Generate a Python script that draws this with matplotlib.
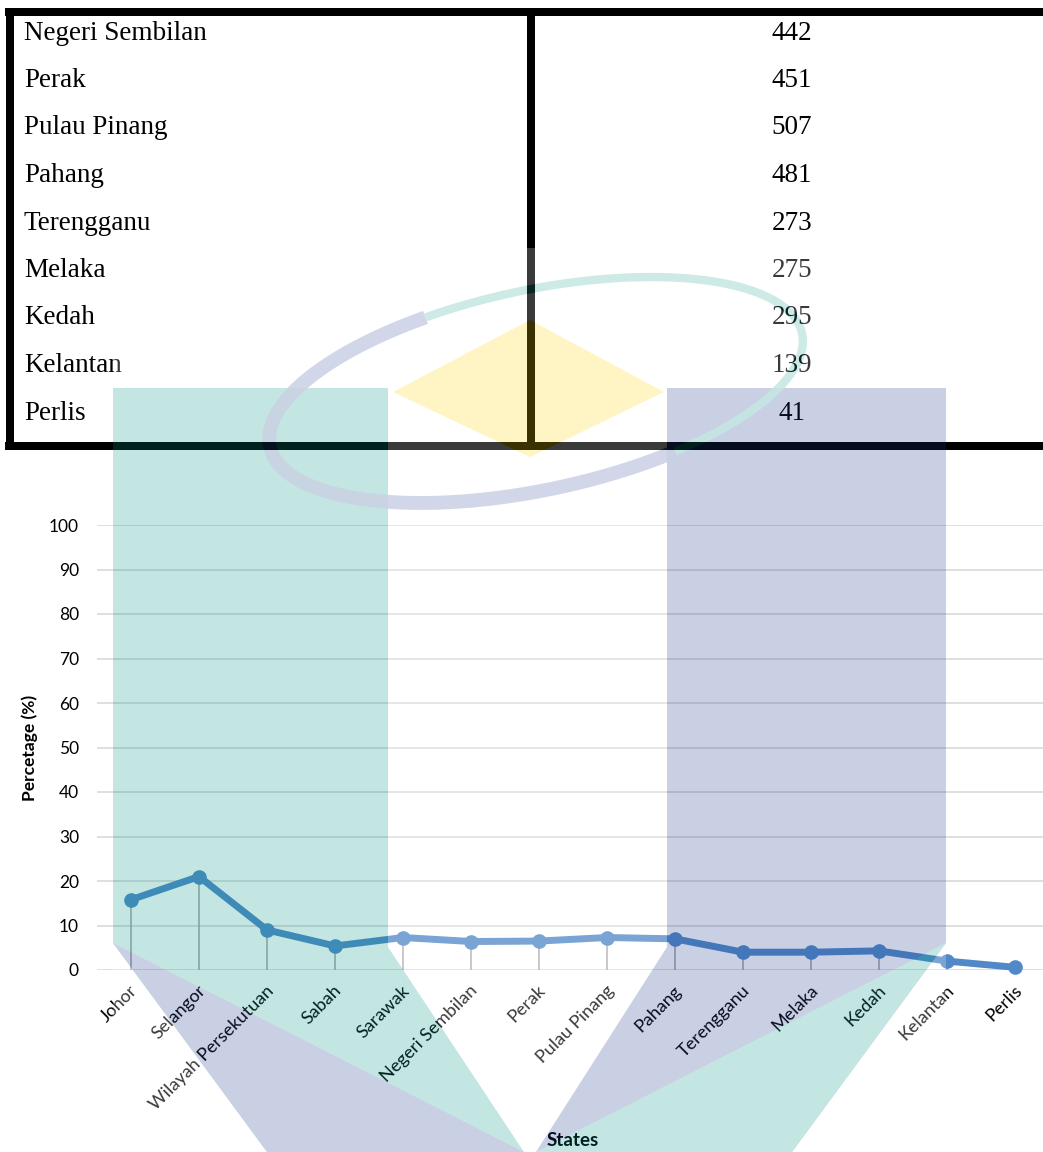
import numpy as np
import matplotlib
matplotlib.use("Agg")
import matplotlib.pyplot as plt
from matplotlib.patches import Polygon, Rectangle
from matplotlib.transforms import ScaledTranslation

plt.rcParams["font.family"] = ["Lato", "DejaVu Sans"]

# table data (top part)
table_states = ["Negeri Sembilan", "Perak", "Pulau Pinang", "Pahang", "Terengganu",
                "Melaka", "Kedah", "Kelantan", "Perlis"]
table_counts = [442, 451, 507, 481, 273, 275, 295, 139, 41]

# chart data
states = ["Johor", "Selangor", "Wilayah Persekutuan", "Sabah", "Sarawak",
          "Negeri Sembilan", "Perak", "Pulau Pinang", "Pahang", "Terengganu",
          "Melaka", "Kedah", "Kelantan", "Perlis"]
pct = [15.8, 21.0, 9.0, 5.4, 7.3, 6.4, 6.5, 7.3, 7.0, 4.0, 4.0, 4.3, 2.0, 0.6]
yticks = list(range(0, 101, 10))

W, H = 1043, 1152
fig = plt.figure(figsize=(W / 100, H / 100), dpi=100)

# background axes in pixel units for the table
bg = fig.add_axes([0, 0, 1, 1])
bg.set_xlim(0, W)
bg.set_ylim(H, 0)
bg.axis("off")

lw_tab = 8 * 72 / 100
bg.plot([5, W], [12, 12], color="black", lw=lw_tab, solid_capstyle="butt")
bg.plot([5, W], [446, 446], color="black", lw=lw_tab, solid_capstyle="butt")
bg.plot([10, 10], [8, 450], color="black", lw=lw_tab, solid_capstyle="butt")
bg.plot([531, 531], [8, 450], color="black", lw=lw_tab, solid_capstyle="butt")

for i, (name, cnt) in enumerate(zip(table_states, table_counts)):
    yb = 39.5 + 47.5 * i
    bg.text(24, yb, name, family="Liberation Serif", fontsize=19.5, va="baseline")
    bg.text(792, yb, str(cnt), family="Liberation Serif", fontsize=19.5,
            va="baseline", ha="center")

# line chart
ax = fig.add_axes([97 / W, 1 - 970 / H, 946 / W, 445 / H])
ax.set_facecolor("none")
x = np.arange(len(states))
ax.set_xlim(-0.5, 13.41)
ax.set_ylim(0, 100)
ax.set_yticks(yticks)
ax.grid(axis="y", color="#D9D9D9", lw=1.2)
ax.set_axisbelow(True)
for s in ax.spines.values():
    s.set_visible(False)

ax.vlines(x, 0, pct, color="#ABABAB", lw=1.2, zorder=2)
ax.plot(x, pct, color="#5189C8", lw=5, marker="o", ms=9.5, zorder=3, clip_on=False)

ax.tick_params(axis="y", length=0, pad=13, labelsize=12.5)
ax.set_xticks(x)
ax.set_xticklabels(states, rotation=45, ha="right", va="center",
                   rotation_mode="anchor", fontsize=13)
ax.tick_params(axis="x", length=0, pad=13)
for lab in ax.get_xticklabels():
    lab.set_transform(lab.get_transform() + ScaledTranslation(0.04, 0, fig.dpi_scale_trans))

bg.text(30, 748, "Percetage (%)", rotation=90, ha="center", va="center",
        fontweight="bold", fontsize=12.5)
bg.text(573, 1141, "States", ha="center", va="center", fontweight="bold", fontsize=13.5)

# watermark overlay, drawn opaque then blended as one layer
ov_fig = plt.figure(figsize=(W / 100, H / 100), dpi=100)
ov_fig.patch.set_alpha(0)
ov = ov_fig.add_axes([0, 0, 1, 1])
ov.set_xlim(0, W)
ov.set_ylim(H, 0)
ov.axis("off")
ov.patch.set_alpha(0)

teal = "#049584"
navy = "#1A378C"
ov.add_patch(Rectangle((113, 248), 833, 904, color="white", lw=0))
ov.add_patch(Polygon([(113, 388), (388, 388), (388, 947), (524, 1152), (267, 1152), (113, 943)],
                     closed=True, color=teal, lw=0))
ov.add_patch(Polygon([(667, 388), (946, 388), (946, 943), (792, 1152), (536, 1152), (667, 947)],
                     closed=True, color=navy, lw=0))
ov.add_patch(Polygon([(113, 943), (267, 1152), (524, 1152)], closed=True, color=navy, lw=0))
ov.add_patch(Polygon([(946, 943), (792, 1152), (536, 1152)], closed=True, color=teal, lw=0))
ov.add_patch(Polygon([(393, 392), (530, 320), (664, 392), (530, 457)], closed=True,
                     color="#FFD500", lw=0))

phi = np.deg2rad(-12)
def ring(t0, t1):
    t = np.deg2rad(np.linspace(t0, t1, 200))
    ex, ey = 272 * np.cos(t), 100 * np.sin(t)
    return (536 + ex * np.cos(phi) - ey * np.sin(phi),
            390 + ex * np.sin(phi) + ey * np.cos(phi))

ov.plot(*ring(63, 250), color=navy, lw=10, alpha=0.85, solid_capstyle="butt")
ov.plot(*ring(250, 423), color=teal, lw=6, alpha=0.85, solid_capstyle="butt")

ov_fig.canvas.draw()
img = np.asarray(ov_fig.canvas.buffer_rgba()).astype(float) / 255
img[..., 3] *= 0.235
plt.close(ov_fig)
fig.figimage(img, 0, 0, origin="upper", zorder=10)

fig.savefig("out.png", dpi=100)
